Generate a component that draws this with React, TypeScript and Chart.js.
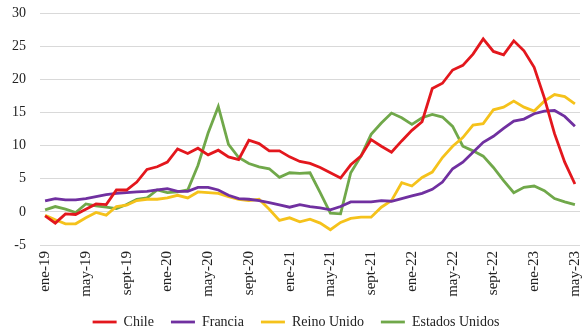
import React, { useEffect, useRef } from "react";
import { Chart, registerables } from "chart.js";

Chart.register(...registerables);

const months = ["ene", "feb", "mar", "abr", "may", "jun", "jul", "ago", "sept", "oct", "nov", "dic"];
const years = ["19", "20", "21", "22", "23"];
const lastYearMonths = 5;

const chile = [-0.6, -1.7, -0.3, -0.4, 0.4, 1.2, 1.1, 3.3, 3.3, 4.5, 6.4, 6.8, 7.5, 9.5, 8.8, 9.6, 8.6, 9.3, 8.3, 7.9, 10.8, 10.3, 9.2, 9.2, 8.3, 7.6, 7.3, 6.7, 5.9, 5.1, 7.1, 8.4, 10.9, 9.9, 9.0, 10.7, 12.3, 13.6, 18.6, 19.4, 21.4, 22.1, 23.8, 26.1, 24.2, 23.7, 25.8, 24.3, 21.8, 17.2, 11.8, 7.5, 4.2];
const francia = [1.65, 2.0, 1.8, 1.8, 2.0, 2.3, 2.6, 2.8, 2.9, 3.0, 3.1, 3.3, 3.5, 3.1, 3.1, 3.7, 3.7, 3.3, 2.5, 2.0, 1.9, 1.7, 1.4, 1.05, 0.7, 1.1, 0.8, 0.6, 0.3, 0.8, 1.5, 1.5, 1.5, 1.7, 1.6, 2.0, 2.4, 2.8, 3.4, 4.5, 6.5, 7.5, 9.0, 10.5, 11.4, 12.6, 13.7, 14.0, 14.8, 15.2, 15.3, 14.4, 12.9];
const reinoUnido = [-0.5, -1.2, -1.8, -1.8, -0.9, -0.1, -0.5, 0.8, 1.0, 1.7, 1.9, 1.9, 2.1, 2.5, 2.1, 3.0, 2.9, 2.8, 2.3, 1.9, 1.7, 1.9, 0.4, -1.3, -0.9, -1.5, -1.1, -1.7, -2.7, -1.6, -1.0, -0.8, -0.8, 0.7, 1.7, 4.4, 3.9, 5.2, 6.0, 8.2, 9.9, 11.2, 13.1, 13.3, 15.4, 15.8, 16.7, 15.8, 15.2, 16.7, 17.7, 17.4, 16.3];
const estadosUnidos = [0.3, 0.8, 0.4, -0.1, 1.2, 0.9, 0.7, 0.5, 1.1, 1.9, 2.1, 3.3, 2.9, 3.0, 3.3, 7.0, 11.9, 15.9, 10.2, 8.2, 7.3, 6.8, 6.5, 5.2, 5.9, 5.8, 5.9, 2.9, -0.2, -0.3, 5.9, 8.4, 11.7, 13.4, 14.9, 14.2, 13.2, 14.2, 14.7, 14.3, 12.9, 9.9, 9.2, 8.4, 6.7, 4.7, 2.9, 3.7, 3.9, 3.2, 2.0, 1.5, 1.1];

const labels: string[] = [];
years.forEach((y, yi) => {
  const n = yi === years.length - 1 ? lastYearMonths : 12;
  for (let m = 0; m < n; m++) labels.push(`${months[m]}-${y}`);
});

const FONT = "'Liberation Serif', 'Times New Roman', serif";

export default function App() {
  const ref = useRef<HTMLCanvasElement | null>(null);
  useEffect(() => {
    if (!ref.current) return;
    const mk = (label: string, data: number[], color: string) => ({
      label,
      data,
      borderColor: color,
      backgroundColor: color,
      borderWidth: 2.8,
      pointRadius: 0,
      pointStyle: "line" as const,
      tension: 0,
      fill: false,
    });
    const chart = new Chart(ref.current, {
      type: "line",
      data: {
        labels,
        datasets: [
          mk("Chile", chile, "#E3171D"),
          mk("Francia", francia, "#7030A0"),
          mk("Reino Unido", reinoUnido, "#F5C21B"),
          mk("Estados Unidos", estadosUnidos, "#70A84A"),
        ],
      },
      options: {
        animation: false,
        responsive: false,
        layout: { padding: { left: 12, right: 5, top: 13, bottom: -5 } },
        plugins: {
          legend: {
            position: "bottom",
            labels: {
              usePointStyle: true,
              pointStyle: "line",
              pointStyleWidth: 24,
              boxHeight: 3,
              padding: 17,
              color: "#222",
              font: { family: FONT, size: 14 },
            },
          },
          tooltip: { enabled: false },
        },
        scales: {
          x: {
            offset: true,
            grid: { display: false, drawTicks: false },
            border: { display: false },
            afterFit: (s: any) => {
              s.paddingLeft = 0;
              s.paddingRight = 0;
              s.height = 53;
            },
            ticks: {
              autoSkip: false,
              maxRotation: 90,
              minRotation: 90,
              padding: 6,
              color: "#222",
              font: { family: FONT, size: 15 },
              callback: (_v: any, i: number) => (i % 4 === 0 ? labels[i] : ""),
            },
          },
          y: {
            min: -5,
            max: 30,
            grid: { color: "#d9d9d9", lineWidth: 1, drawTicks: false },
            border: { display: false },
            afterFit: (s: any) => {
              s.width = 28;
              s.paddingTop = 0;
              s.paddingBottom = 0;
            },
            ticks: {
              stepSize: 5,
              padding: 14,
              color: "#222",
              font: { family: FONT, size: 14 },
            },
          },
        },
      },
    });
    return () => chart.destroy();
  }, []);
  return (
    <div style={{ position: "fixed", left: 0, top: 0, width: 585, height: 334, background: "#fff" }}>
      <canvas ref={ref} width={585} height={334} />
    </div>
  );
}
